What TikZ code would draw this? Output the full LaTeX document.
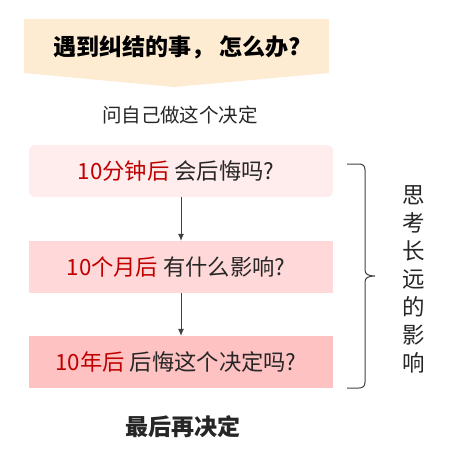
\documentclass[tikz,border=0pt]{standalone}
\usepackage{fontspec}
\newfontfamily\cjk{Noto Sans CJK SC}
\usetikzlibrary{arrows.meta}
\definecolor{peach}{HTML}{FDEBD2}
\definecolor{pinkA}{HTML}{FFECEC}
\definecolor{pinkB}{HTML}{FFD9D9}
\definecolor{pinkC}{HTML}{FFC2C2}
\definecolor{redtxt}{HTML}{C00000}
\definecolor{darktxt}{HTML}{262626}
\definecolor{linegray}{HTML}{404040}
\tikzset{
  qbox/.style={minimum width=304pt, minimum height=52pt, inner sep=0pt, text=darktxt,
    font=\cjk\fontsize{22.3}{22.3}\selectfont},
  flow/.style={draw=linegray, line width=0.8pt, -{Latex[length=7pt,width=6pt]}},
}
\begin{document}
\begin{tikzpicture}[x=1pt,y=-1pt]
\useasboundingbox (0,0) rectangle (449,453);
% title banner
\fill[peach] (24,19) -- (329,19) -- (329,73) -- (174,87) -- (24,73) -- cycle;
\node[text=black, font=\cjk\bfseries\fontsize{23}{23}\selectfont] (title) at (177,47) {遇到纠结的事， 怎么办?};
\node[text=darktxt, font=\cjk\fontsize{19.5}{19.5}\selectfont] (sub) at (180,115) {问自己做这个决定};
% boxes
\node[qbox, fill=pinkA, rounded corners=6pt] (b1) at (181,171) {\textcolor{redtxt}{10分钟后} 会后悔吗?\hspace*{10pt}};
\node[qbox, fill=pinkB] (b2) at (181,267) {\textcolor{redtxt}{10个月后} 有什么影响?\hspace*{10pt}};
\node[qbox, fill=pinkC] (b3) at (181,362) {\textcolor{redtxt}{10年后} 后悔这个决定吗?\hspace*{10pt}};
\draw[flow] (b1.south) -- (b2.north);
\draw[flow] (b2.south) -- (b3.north);
% brace
\draw[linegray, line width=1pt] (347,164) -- (359,164) .. controls (363,164) and (365,166) .. (365,170) -- (365,270) .. controls (365,274) and (368,276) .. (375,276) .. controls (368,276) and (365,278) .. (365,282) -- (365,382) .. controls (365,386) and (363,388) .. (359,388) -- (347,388);
\node[text=darktxt, align=center, font=\cjk\fontsize{22.5}{28}\selectfont] (side) at (414,279) {思\\考\\长\\远\\的\\影\\响};
\node[text=darktxt, font=\cjk\bfseries\fontsize{23}{23}\selectfont] (final) at (183,427) {最后再决定};
\end{tikzpicture}
\end{document}
